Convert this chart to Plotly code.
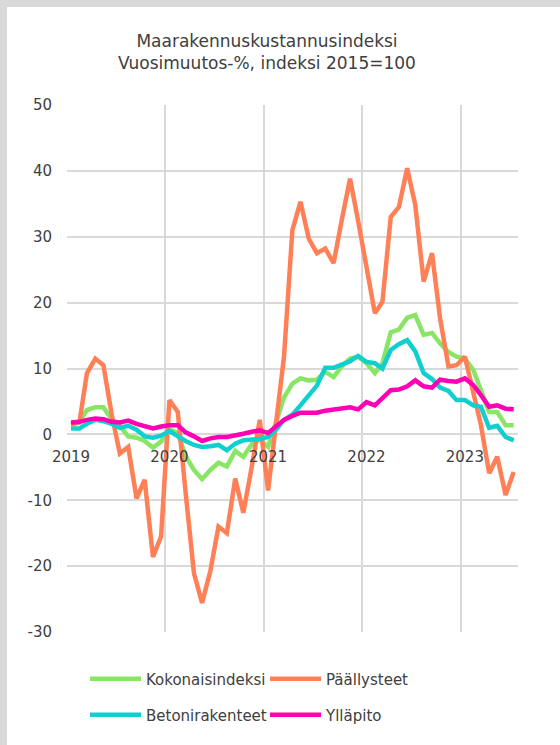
import pandas as pd
import plotly.graph_objects as go

months = pd.date_range("2019-01-01", "2023-07-01", freq="MS") + pd.Timedelta(days=15)

kokonaisindeksi = [1.5, 1.9, 3.7, 4.1, 4.1, 2.3, 1.3, -0.3, -0.5, -1.0, -2.0, -1.1,
                   0.8, 0.2, -3.3, -5.4, -6.8, -5.4, -4.3, -4.9, -2.5, -3.4, -1.5, -0.8,
                   -1.9, 2.0, 5.6, 7.7, 8.5, 8.2, 8.3, 9.5, 8.7, 10.3, 11.5, 11.8,
                   10.8, 9.3, 10.8, 15.5, 15.9, 17.7, 18.1, 15.1, 15.4, 13.8, 12.5, 11.8,
                   11.5, 9.8, 6.7, 3.4, 3.4, 1.4, 1.4]
paallysteet = [1.5, 1.8, 9.3, 11.5, 10.5, 3.0, -2.9, -1.9, -9.7, -6.9, -18.6, -15.5,
               5.2, 3.4, -8.8, -21.1, -25.6, -20.7, -14.0, -15.0, -6.7, -11.9, -5.0, 2.2,
               -8.5, 1.5, 11.8, 31.0, 35.3, 29.7, 27.5, 28.2, 26.0, 32.5, 38.8, 32.4,
               25.4, 18.4, 20.1, 33.0, 34.5, 40.4, 34.8, 23.2, 27.5, 17.6, 10.3, 10.5,
               11.8, 6.5, 1.5, -5.9, -3.4, -9.2, -5.7]
betonirakenteet = [0.9, 0.9, 1.6, 2.2, 2.0, 1.6, 1.0, 1.3, 0.7, -0.3, -0.5, -0.2,
                   0.5, -0.3, -1.0, -1.6, -1.9, -1.8, -1.6, -2.4, -1.4, -0.9, -0.8, -0.7,
                   -0.4, 0.8, 2.2, 3.0, 4.4, 5.8, 7.4, 10.1, 10.1, 10.6, 11.1, 11.9,
                   11.0, 10.8, 10.0, 12.8, 13.7, 14.3, 12.6, 9.3, 8.4, 7.1, 6.6, 5.2,
                   5.2, 4.4, 4.2, 1.0, 1.3, -0.4, -0.9]
yllapito = [1.8, 1.9, 2.2, 2.4, 2.3, 1.9, 1.8, 2.1, 1.6, 1.2, 0.9, 1.2,
            1.4, 1.4, 0.3, -0.3, -1.0, -0.6, -0.4, -0.4, -0.2, 0.1, 0.4, 0.6,
            0.2, 1.3, 2.2, 2.8, 3.3, 3.3, 3.3, 3.6, 3.8, 4.0, 4.1, 3.8,
            4.9, 4.4, 5.5, 6.7, 6.8, 7.3, 8.2, 7.3, 7.1, 8.3, 8.1, 8.0,
            8.5, 7.5, 6.0, 4.2, 4.4, 3.9, 3.8]

y_ticks = [-30, -20, -10, 0, 10, 20, 30, 40, 50]
y_tick_labels = ["-30", "-20", "-10", "0", "10", "20", "30", "40", "50"]

series = [
    ("Kokonaisindeksi", kokonaisindeksi, "#88e566", "legend"),
    ("Päällysteet", paallysteet, "#ff7f57", "legend"),
    ("Betonirakenteet", betonirakenteet, "#12cfcf", "legend2"),
    ("Ylläpito", yllapito, "#ff00b4", "legend2"),
]

FONT = "DejaVu Sans"
TXT = "#404040"
GRID = "#d9d9d9"

fig = go.Figure()
for name, vals, color, lg in series:
    fig.add_trace(go.Scatter(x=months, y=vals, name=name, mode="lines",
                             line=dict(color=color, width=4.5), legend=lg))

W, H = 560, 745
L, R, T, B = 67, 42, 105, 113
pw, ph = W - L - R, H - T - B

legend_common = dict(orientation="h", xref="container", yref="container",
                     xanchor="left", yanchor="middle",
                     itemwidth=51, entrywidth=114, entrywidthmode="pixels",
                     bgcolor="rgba(0,0,0,0)", font=dict(family=FONT, size=15, color=TXT))

fig.update_layout(
    width=W, height=H,
    margin=dict(l=L, r=R, t=T, b=B, pad=0, autoexpand=False),
    paper_bgcolor="#d9d9d9",
    plot_bgcolor="white",
    font=dict(family=FONT, size=15, color=TXT),
    title=dict(text="Maarakennuskustannusindeksi<br>Vuosimuutos-%, indeksi 2015=100",
               x=267 / W, xref="container", xanchor="center",
               y=1 - 47 / H, yref="container", yanchor="middle",
               font=dict(family=FONT, size=17, color=TXT)),
    xaxis=dict(range=["2019-01-01", "2023-08-01"], tick0="2019-01-01", dtick="M12",
               tickformat="%Y", showgrid=True, gridcolor=GRID, gridwidth=1.5,
               zeroline=False, showline=False, ticks="",
               anchor="free", position=(632 - 434.3) / ph, ticklabelshift=4,
               ticklabelstandoff=12,
               tickfont=dict(family=FONT, size=15, color=TXT)),
    yaxis=dict(range=[-30, 50], tickvals=y_ticks, ticktext=y_tick_labels,
               showgrid=True, gridcolor=GRID, gridwidth=1.5,
               zeroline=False, showline=False, ticks="", ticklabelstandoff=14,
               tickfont=dict(family=FONT, size=15, color=TXT)),
    legend=dict(x=85 / W, y=1 - 679 / H, **legend_common),
    legend2=dict(x=85 / W, y=1 - 715 / H, **legend_common),
    shapes=[dict(type="rect", xref="paper", yref="paper", layer="below",
                 x0=(7 - L) / pw, x1=(W + 20 - L) / pw,
                 y0=-(B + 20) / ph, y1=(H - 7 - B) / ph,
                 fillcolor="white", line=dict(width=0))],
)

fig.write_html(
    "out.html",
    config={"displayModeBar": False},
    post_script="document.body.style.margin='0px';document.body.style.overflow='hidden';"
                "document.body.style.background='#d9d9d9';",
)
